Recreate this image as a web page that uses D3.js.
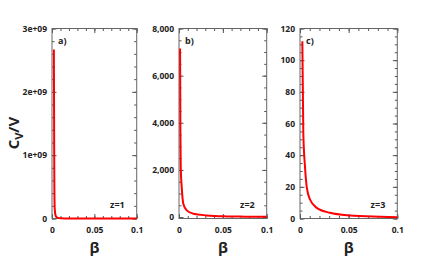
<!DOCTYPE html>
<html>
<head>
<meta charset="utf-8">
<script src="https://cdn.jsdelivr.net/npm/d3@7"></script>
<style>
  body { margin: 0; background: #fff; }
  text { font-family: "Open Sans", "DejaVu Sans", sans-serif; font-weight: bold; fill: #222; }
</style>
</head>
<body>
<script>
// data
var xMajor = [0, 0.05, 0.1];
var xLabels = ["0", "0.05", "0.1"];

var betaA = [0.0022, 0.0024, 0.0026, 0.0028, 0.0032, 0.004, 0.005, 0.007, 0.01, 0.02, 0.05, 0.1];
var cvA = [2.67e9, 1.9e9, 1.1e9, 5e8, 1.6e8, 6e7, 2.5e7, 1e7, 4e6, 8e5, 1e5, 2e4];
var yMajorA = [0, 1e9, 2e9, 3e9];
var yLabelsA = ["0", "1e+09", "2e+09", "3e+09"];

var betaB = [0.0012, 0.0016, 0.002, 0.0031, 0.0049, 0.0088, 0.0163, 0.0316, 0.054, 0.075, 0.1];
var cvB = [7150, 3600, 2100, 1270, 570, 285, 145, 72, 30, 18, 10];
var yMajorB = [0, 2000, 4000, 6000, 8000];
var yLabelsB = ["0", "2,000", "4,000", "6,000", "8,000"];

var betaC = [0.0024, 0.0034, 0.0051, 0.0069, 0.0103, 0.0172, 0.0308, 0.0514, 0.0822, 0.1];
var cvC = [112, 54, 33, 20, 12, 6.7, 3.6, 1.9, 1.1, 0.8];
var yMajorC = [0, 20, 40, 60, 80, 100, 120];
var yLabelsC = ["0", "20", "40", "60", "80", "100", "120"];

var w = 432, h = 264;
var yTop = 28.5, yBottom = 218.5;

var panels = [
  {tag: "a)", z: "z=1", left: 52, right: 136.7, yDomain: [0, 3e9], yMajor: yMajorA, yLabels: yLabelsA, yMinor: 2e8, beta: betaA, cv: cvA},
  {tag: "b)", z: "z=2", left: 179, right: 266.7, yDomain: [-60, 8000], yMajor: yMajorB, yLabels: yLabelsB, yMinor: 500, beta: betaB, cv: cvB},
  {tag: "c)", z: "z=3", left: 300, right: 397.3, yDomain: [0, 120], yMajor: yMajorC, yLabels: yLabelsC, yMinor: 5, beta: betaC, cv: cvC}
];

var svg = d3.select("body")
  .append("svg")
  .attr("width", w)
  .attr("height", h);

panels.forEach(function(p) {
  var x = d3.scaleLinear().domain([0, 0.1]).range([p.left, p.right]);
  var y = d3.scaleLinear().domain(p.yDomain).range([yBottom, yTop]);
  var xMinor = d3.range(0, 0.1001, 0.01);
  var yMinor = d3.range(0, p.yDomain[1] + p.yMinor / 2, p.yMinor);

  var g = svg.append("g");

  function addAxis(axis, tx, ty) {
    var a = g.append("g").attr("transform", "translate(" + tx + "," + ty + ")").call(axis);
    a.select(".domain").remove();
    a.selectAll("line").attr("stroke", "#555");
    return a;
  }
  // minor ticks on all four sides
  addAxis(d3.axisBottom(x).tickValues(xMinor).tickSize(-2.5).tickFormat(""), 0, yBottom);
  addAxis(d3.axisTop(x).tickValues(xMinor).tickSize(-2.5).tickFormat(""), 0, yTop);
  addAxis(d3.axisLeft(y).tickValues(yMinor).tickSize(-2.5).tickFormat(""), p.left, 0);
  addAxis(d3.axisRight(y).tickValues(yMinor).tickSize(-2.5).tickFormat(""), p.right, 0);

  // major ticks
  var bx = addAxis(d3.axisBottom(x).tickValues(xMajor).tickSize(-4.5).tickPadding(8)
    .tickFormat(function(d, i) { return xLabels[i]; }), 0, yBottom);
  addAxis(d3.axisTop(x).tickValues(xMajor).tickSize(-4.5).tickFormat(""), 0, yTop);
  var ly = addAxis(d3.axisLeft(y).tickValues(p.yMajor).tickSize(-4.5).tickPadding(5)
    .tickFormat(function(d, i) { return p.yLabels[i]; }), p.left, 0);
  addAxis(d3.axisRight(y).tickValues(p.yMajor).tickSize(-4.5).tickFormat(""), p.right, 0);

  bx.selectAll("text").style("font-size", "8.5px").attr("fill", "#222");
  ly.selectAll("text").style("font-size", "8.5px").attr("fill", "#222");

  // frame
  g.append("rect")
    .attr("x", p.left).attr("y", yTop)
    .attr("width", p.right - p.left).attr("height", yBottom - yTop)
    .attr("fill", "none").attr("stroke", "#666").attr("stroke-width", 1);

  var pts = p.beta.map(function(b, i) { return [b, p.cv[i]]; });
  var line = d3.line()
    .x(function(d) { return x(d[0]); })
    .y(function(d) { return y(d[1]); })
    .curve(d3.curveMonotoneX);

  g.append("path")
    .datum(pts)
    .attr("d", line)
    .attr("fill", "none")
    .attr("stroke", "#ff0000")
    .attr("stroke-width", 2);

  g.append("text")
    .attr("x", p.left + 6).attr("y", yTop + 15)
    .style("font-size", "9px")
    .text(p.tag);

  g.append("text")
    .attr("x", p.right - 12).attr("y", 208)
    .attr("text-anchor", "end")
    .style("font-size", "9px")
    .text(p.z);

  g.append("text")
    .attr("x", (p.left + p.right) / 2).attr("y", 253)
    .attr("text-anchor", "middle")
    .style("font-size", "15px")
    .text("\u03b2");
});

// y axis title
var yt = svg.append("text")
  .attr("transform", "translate(19,133) rotate(-90)")
  .attr("text-anchor", "middle")
  .style("font-size", "15px");
yt.append("tspan").text("C");
yt.append("tspan").attr("dy", 4).style("font-size", "11px").text("V");
yt.append("tspan").attr("dy", -4).text("/V");
</script>
</body>
</html>
